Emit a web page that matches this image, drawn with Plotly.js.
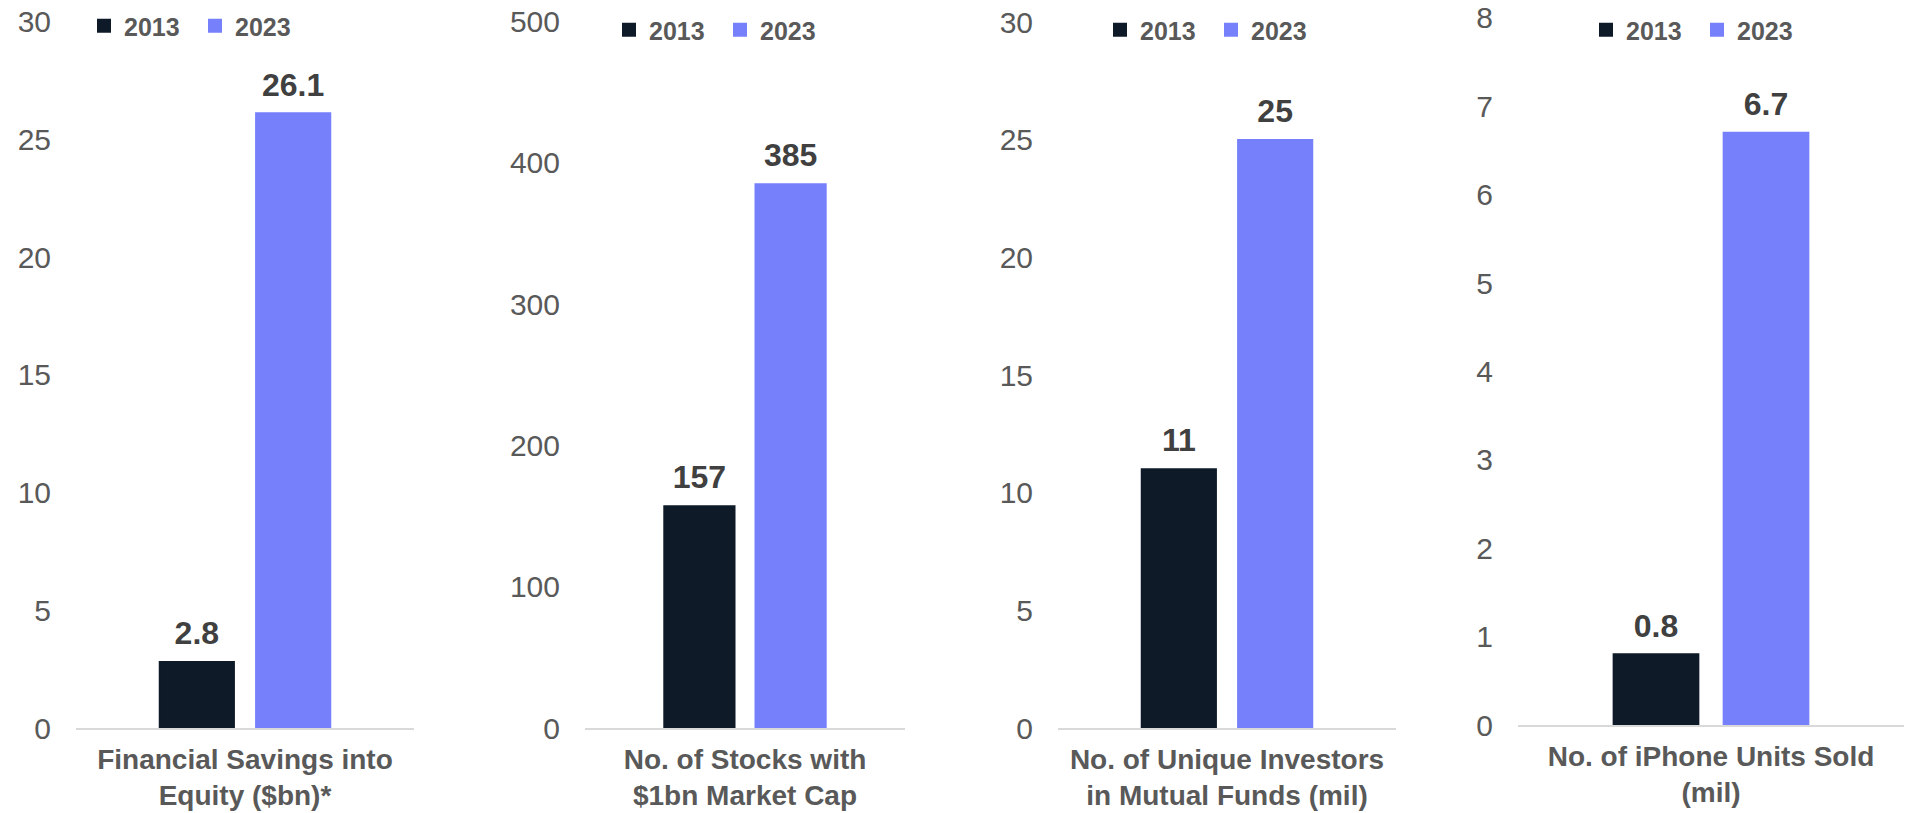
<!DOCTYPE html>
<html><head><meta charset="utf-8">
<script src="https://cdn.plot.ly/plotly-3.0.1.min.js"></script>
<style>html,body{margin:0;padding:0;background:#fff}#chart{width:1907px;height:813px}</style>
</head><body><div id="chart"></div>
<script>
// ---- data ----
const categories = [
  "Financial Savings into<br>Equity ($bn)*",
  "No. of Stocks with<br>$1bn Market Cap",
  "No. of Unique Investors<br>in Mutual Funds (mil)",
  "No. of iPhone Units Sold<br>(mil)"
];
const years = ["2013", "2023"];
const values2013 = [2.8, 157, 11, 0.8];
const values2023 = [26.1, 385, 25, 6.7];
const yMax = [30, 500, 30, 8];
const yStep = [5, 100, 5, 1];

// ---- styling ----
const FONT = "Liberation Sans, Arial, sans-serif";
const yearColors = {"2013": "#0F1A28", "2023": "#7780FB"};
const xDomains = [[76, 414], [585, 905], [1058, 1396], [1518, 1904]];
const yDomains = [[728, 21.5], [728, 21.7], [728, 22.3], [725, 17.8]];
const legendLeft = [84, 609, 1100, 1586];
const legendTop = [3, 7, 7, 7];
const W = 1907, H = 813;

const seriesValues = {"2013": values2013, "2023": values2023};
const traces = [];
categories.forEach((cat, i) => {
  const sfx = i === 0 ? "" : String(i + 1);
  years.forEach(yr => {
    traces.push({
      type: "bar",
      x: [cat],
      y: [seriesValues[yr][i]],
      name: yr,
      xaxis: "x" + sfx,
      yaxis: "y" + sfx,
      legend: "legend" + sfx,
      offsetgroup: yr,
      marker: {color: yearColors[yr], line: {width: 2, color: yearColors[yr]}},
      hoverinfo: "skip"
    });
  });
  // value labels, grouped to sit over their bars
  years.forEach(yr => {
    traces.push({
      type: "scatter",
      mode: "markers+text",
      x: [cat],
      y: [seriesValues[yr][i]],
      name: yr + " label",
      xaxis: "x" + sfx,
      yaxis: "y" + sfx,
      offsetgroup: yr,
      showlegend: false,
      marker: {size: 14, opacity: 0, color: "rgba(0,0,0,0)"},
      texttemplate: "%{y}",
      textposition: "top center",
      cliponaxis: false,
      textfont: {family: FONT, size: 32, weight: 700, color: "#404040"},
      hoverinfo: "skip"
    });
  });
});

const layout = {
  width: W, height: H,
  margin: {l: 0, r: 0, t: 0, b: 0, pad: 0},
  paper_bgcolor: "#ffffff",
  plot_bgcolor: "#ffffff",
  barmode: "group",
  scattermode: "group",
  bargap: 0.43,
  scattergap: 0.43,
  bargroupgap: 0.23,
  font: {family: FONT, color: "#595959"},
  showlegend: true
};

categories.forEach((cat, i) => {
  const sfx = i === 0 ? "" : String(i + 1);
  layout["xaxis" + sfx] = {
    domain: [xDomains[i][0] / W, xDomains[i][1] / W],
    anchor: "y" + sfx,
    type: "category",
    showline: true, linecolor: "#D9D9D9", linewidth: 2,
    ticks: "", showgrid: false, zeroline: false,
    tickfont: {family: FONT, size: 28, weight: 700, color: "#595959"},
    ticklabelstandoff: 5,
    fixedrange: true
  };
  layout["yaxis" + sfx] = {
    domain: [(H - yDomains[i][0]) / H, (H - yDomains[i][1]) / H],
    anchor: "x" + sfx,
    range: [0, yMax[i]],
    dtick: yStep[i], tick0: 0,
    showgrid: false, zeroline: false, showline: false, ticks: "",
    tickfont: {family: FONT, size: 30, color: "#595959"},
    ticklabelstandoff: 24,
    fixedrange: true
  };
  layout["legend" + sfx] = {
    orientation: "h",
    x: legendLeft[i] / W, xanchor: "left",
    y: 1 - legendTop[i] / H, yanchor: "top",
    bgcolor: "rgba(0,0,0,0)",
    entrywidth: 66, entrywidthmode: "pixels",
    font: {family: FONT, size: 25, weight: 700, color: "#595959"},
    traceorder: "normal"
  };
});

Plotly.newPlot("chart", traces, layout, {displayModeBar: false, staticPlot: true});
</script>
</body></html>
